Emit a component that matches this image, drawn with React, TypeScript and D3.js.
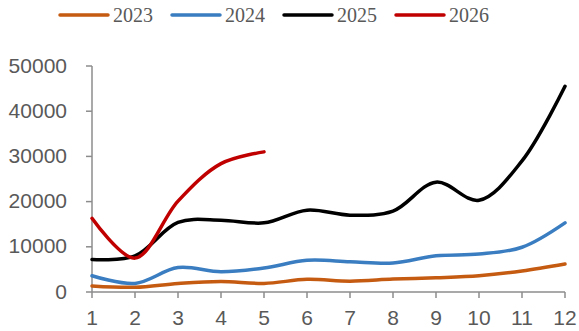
import React from "react";
import * as d3 from "d3";

const months = [1, 2, 3, 4, 5, 6, 7, 8, 9, 10, 11, 12];
const s2023 = [1350, 1050, 1900, 2350, 1900, 2800, 2400, 2850, 3150, 3600, 4650, 6200];
const s2024 = [3600, 1900, 5400, 4500, 5300, 7000, 6700, 6400, 8000, 8400, 9900, 15300];
const s2025 = [7200, 8000, 15400, 15900, 15300, 18100, 17000, 17900, 24300, 20300, 29000, 45500];
const s2026 = [16300, 7500, 20100, 28400, 31000];
const yTicks = [0, 10000, 20000, 30000, 40000, 50000];
const seriesNames = ["2023", "2024", "2025", "2026"];
const colors = ["#C55A11", "#3A7DC0", "#000000", "#C00000"];

export default function App() {
  const W = 579, H = 331;
  const x = d3.scaleLinear().domain([1, 12]).range([92, 565]);
  const y = d3.scaleLinear().domain([0, 50000]).range([292, 66]);
  const line = d3
    .line<number>()
    .x((_, i) => x(months[i]))
    .y((d) => y(d))
    .curve(d3.curveCatmullRom.alpha(0.5));
  const all = [s2023, s2024, s2025, s2026];
  const axisColor = "#8c8c8c";
  const legendX = [60, 172, 284, 396];
  return (
    <svg width={W} height={H} style={{ position: "absolute", left: 0, top: 0 }}>
      <rect width={W} height={H} fill="#fff" />
      {/* legend */}
      {seriesNames.map((n, i) => (
        <g key={n}>
          <line x1={legendX[i]} x2={legendX[i] + 48} y1={15} y2={15} stroke={colors[i]} strokeWidth={3.5} strokeLinecap="round" />
          <text x={legendX[i] + 53} y={22} fontFamily="Liberation Serif, Times New Roman, serif" fontSize={20} fill="#595959">{n}</text>
        </g>
      ))}
      {/* y axis */}
      <line x1={92} x2={92} y1={y(50000)} y2={292} stroke={axisColor} strokeWidth={1.5} />
      {yTicks.map((t) => (
        <g key={t}>
          <line x1={86} x2={92} y1={y(t)} y2={y(t)} stroke={axisColor} strokeWidth={1.5} />
          <text x={67} y={y(t) + 6.5} textAnchor="end" fontFamily="Liberation Sans, Arial, sans-serif" fontSize={21} fill="#595959">{t}</text>
        </g>
      ))}
      {/* x axis */}
      <line x1={92} x2={565} y1={292} y2={292} stroke={axisColor} strokeWidth={1.5} />
      {months.map((m) => (
        <g key={m}>
          <line x1={x(m)} x2={x(m)} y1={292} y2={298} stroke={axisColor} strokeWidth={1.5} />
          <text x={x(m)} y={325} textAnchor="middle" fontFamily="Liberation Sans, Arial, sans-serif" fontSize={21} fill="#595959">{m}</text>
        </g>
      ))}
      {all.map((s, i) => (
        <path key={i} d={line(s) || ""} fill="none" stroke={colors[i]} strokeWidth={3.5} strokeLinecap="round" strokeLinejoin="round" />
      ))}
    </svg>
  );
}
